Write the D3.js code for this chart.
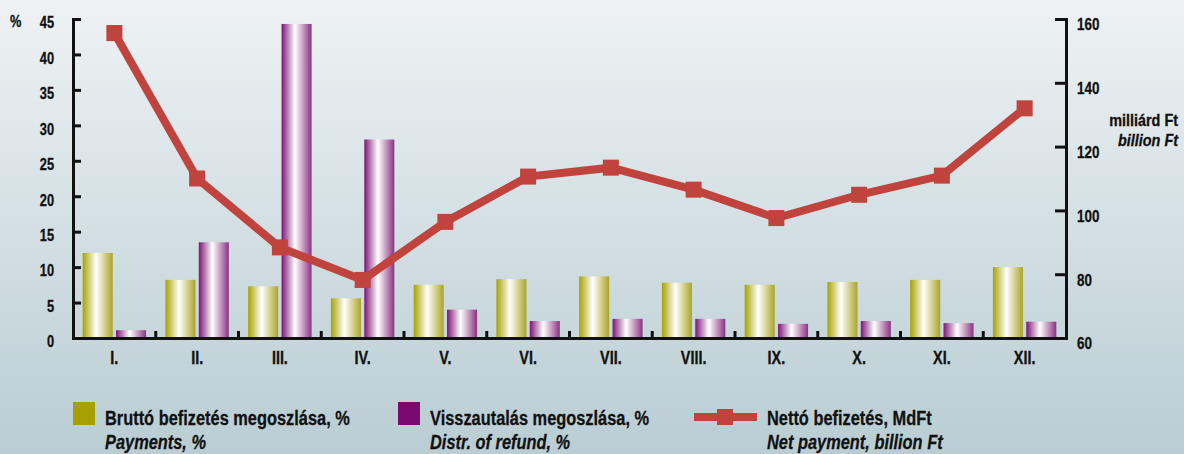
<!DOCTYPE html>
<html>
<head>
<meta charset="utf-8">
<script src="https://cdn.jsdelivr.net/npm/d3@7"></script>
<style>
  html, body { margin: 0; padding: 0; }
  body { width: 1184px; height: 454px; overflow: hidden; }
  svg text { font-family: "Liberation Sans", Arial, sans-serif; font-weight: bold; fill: #111; stroke: #111; stroke-width: 0.3px; }
</style>
</head>
<body>
<div id="app"></div>
<script>
// data
const months = ["I.", "II.", "III.", "IV.", "V.", "VI.", "VII.", "VIII.", "IX.", "X.", "XI.", "XII."];
const payments = [12.0, 8.2, 7.3, 5.6, 7.5, 8.3, 8.7, 7.8, 7.5, 7.9, 8.2, 10.0];
const refunds = [1.1, 13.5, 44.3, 28.0, 4.0, 2.4, 2.7, 2.7, 2.0, 2.4, 2.1, 2.3];
const netPayment = [155.6, 110.0, 88.4, 78.2, 96.4, 110.6, 113.4, 106.5, 97.6, 104.9, 110.9, 132.0];
const leftTicks = [0, 5, 10, 15, 20, 25, 30, 35, 40, 45];
const rightTicks = [60, 80, 100, 120, 140, 160];

const width = 1184
    , height = 454
    , x0 = 73
    , x1 = 1066
    , yTop = 19
    , yBase = 338;

const svg = d3.select("#app").append("svg")
    .attr("width", width)
    .attr("height", height);

const defs = svg.append("defs");

const bg = defs.append("linearGradient")
    .attr("id", "bg")
    .attr("x1", 0).attr("y1", 0).attr("x2", 0).attr("y2", 1);
bg.append("stop").attr("offset", "0%").attr("stop-color", "#eef2f4");
bg.append("stop").attr("offset", "100%").attr("stop-color", "#b9cdd3");

function barGradient(id, edgeL, edgeR) {
  const g = defs.append("linearGradient").attr("id", id);
  g.append("stop").attr("offset", "0%").attr("stop-color", edgeL);
  g.append("stop").attr("offset", "45%").attr("stop-color", "#ffffff");
  g.append("stop").attr("offset", "100%").attr("stop-color", edgeR);
}
barGradient("gYellow", "#a6a200", "#aaa425");
barGradient("gPurple", "#7c1474", "#8a3282");

svg.append("rect")
    .attr("width", width)
    .attr("height", height)
    .attr("fill", "url(#bg)");

const x = d3.scaleBand().domain(months).range([x0, x1]);
const xs = d3.scaleBand().domain(["pay", "ref"]).range([0, x.bandwidth()])
    .paddingInner(0.1).paddingOuter(0.29);
const yL = d3.scaleLinear().domain([0, 45]).range([yBase, yTop]);
const yR = d3.scaleLinear().domain([60, 160]).range([yBase, yTop]);

// narrow text: the reference uses a condensed face, so squeeze horizontally
function ntext(g, tx, ty, str, size, sx) {
  return g.append("text")
      .attr("transform", `translate(${tx},${ty}) scale(${sx},1)`)
      .attr("font-size", size)
      .text(str);
}

// bars
const groups = svg.append("g").selectAll("g")
    .data(months)
  .enter().append("g")
    .attr("transform", d => `translate(${x(d)},0)`);

groups.append("rect")
    .attr("x", xs("pay"))
    .attr("width", xs.bandwidth())
    .attr("y", (d, i) => yL(payments[i]))
    .attr("height", (d, i) => yBase - yL(payments[i]))
    .attr("fill", "url(#gYellow)");

groups.append("rect")
    .attr("x", xs("ref"))
    .attr("width", xs.bandwidth())
    .attr("y", (d, i) => yL(refunds[i]))
    .attr("height", (d, i) => yBase - yL(refunds[i]))
    .attr("fill", "url(#gPurple)");

// axes
const styleAxis = (size, sx, dy) => g => {
  g.selectAll("path, line").attr("stroke", "#111").attr("stroke-width", 3);
  g.selectAll("text")
      .attr("font-size", size)
      .attr("font-family", null)
      .attr("fill", "#111")
      .attr("dy", dy)
      .each(function() {
        const t = d3.select(this);
        const tx = +t.attr("x") || 0, ty = +t.attr("y") || 0;
        t.attr("x", 0).attr("y", 0)
         .attr("transform", `translate(${tx},${ty}) scale(${sx},1)`);
      });
};

svg.append("g")
    .attr("transform", `translate(${x0},0)`)
    .call(d3.axisLeft(yL).tickValues(leftTicks).tickSizeInner(-8).tickSizeOuter(-8).tickPadding(19))
    .call(styleAxis(16, 0.8, "0.55em"));

svg.append("g")
    .attr("transform", `translate(${x1},0)`)
    .call(d3.axisRight(yR).tickValues(rightTicks).tickSizeInner(-11).tickSizeOuter(-11).tickPadding(11))
    .call(styleAxis(16, 0.84, "0.68em"));

svg.append("g")
    .attr("transform", `translate(0,${yBase})`)
    .call(d3.axisBottom(x).tickSize(0).tickPadding(12))
    .call(styleAxis(18, 0.8, "0.75em"));

// small separators between months
svg.append("g").selectAll("line")
    .data(months.slice(1))
  .enter().append("line")
    .attr("x1", d => x(d)).attr("x2", d => x(d))
    .attr("y1", yBase).attr("y2", yBase - 7)
    .attr("stroke", "#111").attr("stroke-width", 3);

// axis titles
ntext(svg, 10, 27, "%", 16, 0.8);
ntext(svg, 1178, 126, "milliárd Ft", 16, 0.9).attr("text-anchor", "end");
ntext(svg, 1178, 146, "billion Ft", 16, 0.9).attr("text-anchor", "end").attr("font-style", "italic");

// line
const cx = (d, i) => x(months[i]) + x.bandwidth() / 2;
const lineColor = "#c0433d";

svg.append("path")
    .datum(netPayment)
    .attr("fill", "none")
    .attr("stroke", lineColor)
    .attr("stroke-width", 8)
    .attr("d", d3.line().x(cx).y(d => yR(d)));

svg.append("g").selectAll("rect")
    .data(netPayment)
  .enter().append("rect")
    .attr("x", (d, i) => cx(d, i) - 8)
    .attr("y", d => yR(d) - 8)
    .attr("width", 16).attr("height", 16)
    .attr("fill", lineColor);

// legend
const legend = svg.append("g");

legend.append("rect").attr("x", 73).attr("y", 402).attr("width", 22).attr("height", 23).attr("fill", "#a6a000");
legend.append("rect").attr("x", 398).attr("y", 402).attr("width", 22).attr("height", 23).attr("fill", "#7a0a6e");
legend.append("rect").attr("x", 694).attr("y", 413).attr("width", 63).attr("height", 8).attr("fill", lineColor);
legend.append("rect").attr("x", 717).attr("y", 409).attr("width", 16).attr("height", 16).attr("fill", lineColor);

const legendItems = [
  { x: 105, a: "Bruttó befizetés megoszlása, %", b: "Payments, %" },
  { x: 430, a: "Visszautalás megoszlása, %", b: "Distr. of refund, %" },
  { x: 767, a: "Nettó befizetés, MdFt", b: "Net payment, billion Ft" }
];
legendItems.forEach(d => {
  ntext(legend, d.x, 425, d.a, 21, 0.78);
  ntext(legend, d.x, 449, d.b, 21, 0.78).attr("font-style", "italic");
});
</script>
</body>
</html>
